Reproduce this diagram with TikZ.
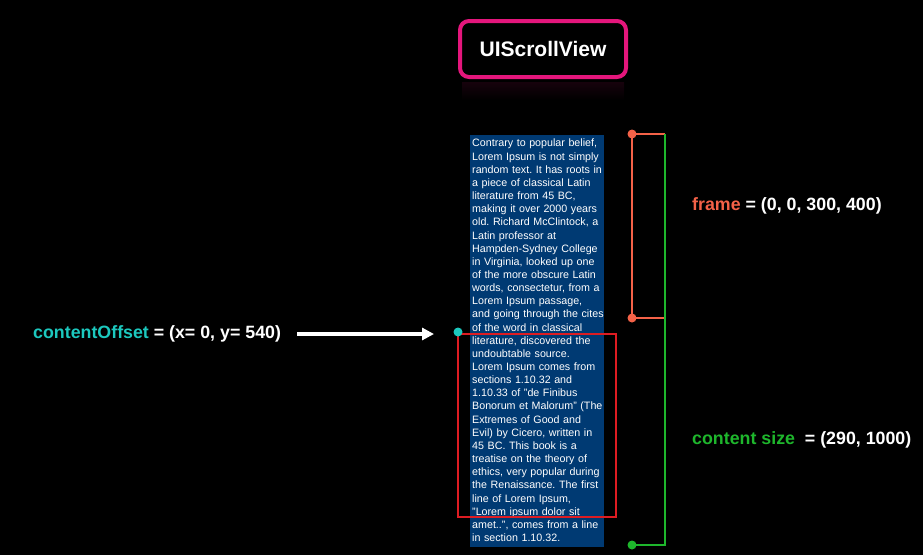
\documentclass[tikz,border=0pt]{standalone}
\usepackage{fontspec}
\setmainfont{Liberation Sans}
\usetikzlibrary{arrows.meta,positioning,calc}
\definecolor{viewpink}{RGB}{228,22,124}
\definecolor{textblue}{RGB}{0,58,115}
\definecolor{offcyan}{RGB}{28,200,190}
\definecolor{frameorange}{RGB}{244,98,72}
\definecolor{sizegreen}{RGB}{30,182,44}
\definecolor{visred}{RGB}{222,28,34}
\tikzset{
    title/.style={draw=viewpink, line width=4pt, rounded corners=9pt, fill=black,
                  minimum width=166pt, minimum height=56pt, text=white,
                  font=\fontsize{21}{24}\selectfont\bfseries},
    content/.style={fill=textblue, minimum width=134pt, minimum height=412pt, inner sep=0pt},
    lorem/.style={text=white, align=left, inner sep=0pt, text width=132pt,
                  font=\fontsize{10.7}{13.15}\selectfont\frenchspacing},
    label/.style={text=white, inner sep=0pt, font=\fontsize{17.8}{20}\selectfont\bfseries},
    visible/.style={draw=visred, line width=2pt},
    framebar/.style={draw=frameorange, line width=2.2pt},
    sizebar/.style={draw=sizegreen, line width=2.2pt},
    pin/.style={circle, inner sep=0pt, minimum size=9pt},
}
\begin{document}
\begin{tikzpicture}[x=1pt, y=-1pt]
    % Background
    \fill[black] (0,0) rectangle (923,555);
    \useasboundingbox (0,0) rectangle (923,555);

    % Scroll view title and its reflection
    \shade[top color=viewpink!10!black, bottom color=black] (462,82) rectangle (624,100);
    \node[title] (view) at (543,49) {UIScrollView};

    % Content
    \node[content] (page) at (537,341) {};
    \node[lorem, anchor=north west] (text) at (472,139) {%
        Contrary to popular belief,\\
        Lorem Ipsum is not simply\\
        random text. It has roots in\\
        a piece of classical Latin\\
        literature from 45 BC,\\
        making it over 2000 years\\
        old. Richard McClintock, a\\
        Latin professor at\\
        Hampden-Sydney College\\
        in Virginia, looked up one\\
        of the more obscure Latin\\
        words, consectetur, from a\\
        Lorem Ipsum passage,\\
        and going through the cites\\
        of the word in classical\\
        literature, discovered the\\
        undoubtable source.\\
        Lorem Ipsum comes from\\
        sections 1.10.32 and\\
        1.10.33 of \symbol{34}de Finibus\\
        Bonorum et Malorum\symbol{34} (The\\
        Extremes of Good and\\
        Evil) by Cicero, written in\\
        45 BC. This book is a\\
        treatise on the theory of\\
        ethics, very popular during\\
        the Renaissance. The first\\
        line of Lorem Ipsum,\\
        \symbol{34}Lorem ipsum dolor sit\\
        amet..\symbol{34}, comes from a line\\
        in section 1.10.32.};

    % Visible area
    \draw[visible] (458,334) rectangle (616,517);
    \node[pin, fill=offcyan] (offset) at (458,332) {};

    % Content offset
    \node[label, anchor=west] (offlabel) at (33,334)
        {\textcolor{offcyan}{contentOffset} = (x= 0, y= 540)};
    \coordinate (arrowstart) at (297,334);
    \coordinate (arrowend) at (434,334);
    \draw[white, line width=3.2pt, -{Triangle[length=12pt, width=12pt]}] (arrowstart) -- (arrowend);

    % Frame
    \node[pin, fill=frameorange] (ftop) at (632,134) {};
    \node[pin, fill=frameorange] (fbot) at (632,318) {};
    \coordinate (fright) at (665,134);
    \coordinate (fbright) at (665,318);
    \draw[framebar] (ftop.center) -- (fbot.center) -- (fbright);
    \draw[framebar] (ftop.center) -- (fright);
    \node[label, anchor=west] (framelabel) at (692,206)
        {\textcolor{frameorange}{frame} = (0, 0, 300, 400)};

    % Content size
    \node[pin, fill=sizegreen] (sbot) at (632,545) {};
    \coordinate (sright) at (665,545);
    \draw[sizebar] (fright) -- (sright) -- (sbot.center);
    \node[label, anchor=west] (sizelabel) at (692,440)
        {\textcolor{sizegreen}{content size}\ \ = (290, 1000)};
\end{tikzpicture}
\end{document}
